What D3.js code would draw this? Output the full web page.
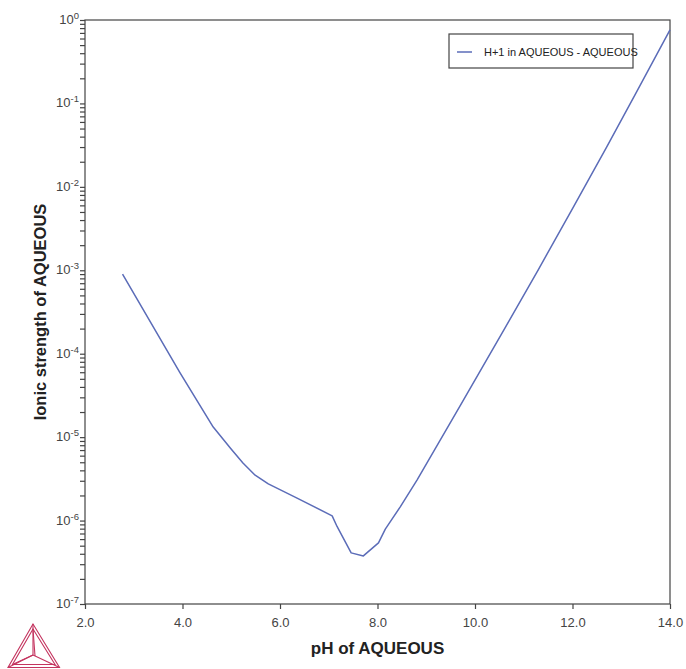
<!DOCTYPE html>
<html><head><meta charset="utf-8">
<script src="https://cdn.jsdelivr.net/npm/d3@7"></script>
<style>body{margin:0;background:#fff}svg{display:block}</style>
</head><body>
<svg id="c" width="686" height="669"></svg>
<script>
const pH = [2.77, 3.95, 4.63, 4.98, 5.24, 5.49, 5.76, 6.35, 7.07, 7.17, 7.46, 7.71, 8.02, 8.16, 8.47, 8.81, 9.7, 10.59, 11.3, 12.0, 12.7, 13.29, 14.0];
const ionic = [9.0e-4, 5.9e-5, 1.32e-5, 7.4e-6, 4.9e-6, 3.5e-6, 2.75e-6, 1.86e-6, 1.14e-6, 8.5e-7, 4.1e-7, 3.77e-7, 5.4e-7, 7.9e-7, 1.47e-6, 3.06e-6, 2.4e-5, 1.92e-4, 1.02e-3, 5.5e-3, 3.0e-2, 0.129, 0.76];
const xTicks = [2, 4, 6, 8, 10, 12, 14];
const yExps = [0, -1, -2, -3, -4, -5, -6, -7];
const seriesName = "H+1 in AQUEOUS - AQUEOUS";
const xTitle = "pH of AQUEOUS";
const yTitle = "Ionic strength of AQUEOUS";

const svg = d3.select("#c");
const L = 85, R = 670, T = 20, B = 604;
const x = d3.scaleLinear().domain([2, 14]).range([L, R]);
const y = d3.scaleLog().domain([1e-7, 1]).range([B, T]);
const axisCol = "#444";
const font = "'Liberation Sans', Arial, sans-serif";

// frame
svg.append("rect").attr("x", L).attr("y", T).attr("width", R - L).attr("height", B - T)
  .attr("fill", "none").attr("stroke", axisCol).attr("stroke-width", 1.2);

// x axis
const xg = svg.append("g").attr("transform", `translate(0,${B})`)
  .call(d3.axisBottom(x).tickValues(xTicks).tickFormat(d3.format(".1f")).tickSize(5).tickPadding(9));
xg.select(".domain").remove();
xg.selectAll("line").attr("stroke", axisCol).attr("stroke-width", 1.2);
xg.selectAll("text").attr("font-family", font).attr("font-size", 13).attr("fill", "#444");

// y axis ticks (major + minor)
const minor = [];
for (let e = -7; e < 0; e++) for (let m = 1; m <= 9; m++) minor.push(m * Math.pow(10, e));
minor.push(1);
const yg = svg.append("g").attr("transform", `translate(${L},0)`)
  .call(d3.axisLeft(y).tickValues(minor).tickFormat("").tickSize(5));
yg.select(".domain").remove();
yg.selectAll("line").attr("stroke", axisCol).attr("stroke-width", 1.2);

const yl = svg.append("g");
yExps.forEach(e => {
  const t = yl.append("text").attr("x", L - 6).attr("y", y(Math.pow(10, e)) + 4)
    .attr("text-anchor", "end").attr("font-family", font).attr("font-size", 13).attr("fill", "#444");
  t.append("tspan").text("10");
  t.append("tspan").attr("dy", -5).attr("font-size", 9.5).text(String(e));
});

// line
svg.append("path").datum(pH.map((p, i) => [p, ionic[i]]))
  .attr("fill", "none").attr("stroke", "#5b6cb8").attr("stroke-width", 1.5)
  .attr("stroke-linejoin", "round")
  .attr("d", d3.line().x(d => x(d[0])).y(d => y(d[1])));

// legend
svg.append("rect").attr("x", 449).attr("y", 34).attr("width", 184).attr("height", 34)
  .attr("fill", "#fff").attr("stroke", "#444").attr("stroke-width", 1.2);
svg.append("line").attr("x1", 457).attr("x2", 472).attr("y1", 52).attr("y2", 52)
  .attr("stroke", "#5b6cb8").attr("stroke-width", 1.5);
svg.append("text").attr("x", 484).attr("y", 56).attr("font-family", font).attr("font-size", 11)
  .attr("fill", "#222").text(seriesName);

// titles
svg.append("text").attr("x", (L + R) / 2).attr("y", 654).attr("text-anchor", "middle")
  .attr("font-family", font).attr("font-size", 17).attr("font-weight", "bold").attr("fill", "#222").text(xTitle);
svg.append("text").attr("transform", `translate(46,${(T + B) / 2}) rotate(-90)`).attr("text-anchor", "middle")
  .attr("font-family", font).attr("font-size", 16.5).attr("font-weight", "bold").attr("fill", "#222").text(yTitle);

// logo
const lg = svg.append("g").attr("fill", "none").attr("stroke", "#c4345f").attr("stroke-width", 1.1);
lg.append("path").attr("d", "M33,624 L8,667.5 L59.5,667.5 Z");
lg.append("path").attr("d", "M33,629 L12.5,664.5 L55,664.5 Z");
lg.append("path").attr("d", "M33,624 L33,655 M33,655 L8,667.5 M33,655 L59.5,667.5");
lg.append("path").attr("d", "M33,629 L35,656 M33,655 L12.5,664.5");
</script>
</body></html>
